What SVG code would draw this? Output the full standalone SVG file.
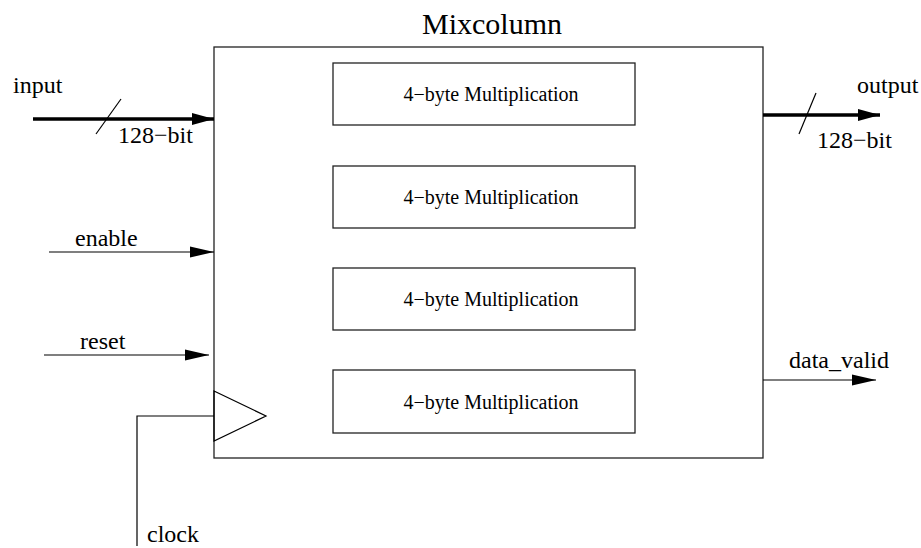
<svg xmlns="http://www.w3.org/2000/svg" width="921" height="548" viewBox="0 0 921 548">
  <style>
    text { font-family: "Liberation Serif", "Times New Roman", serif; fill: #000; }
    .lbl { font-size: 24px; }
    .title { font-size: 30px; }
    .unit { font-size: 20px; text-anchor: middle; }
    .box { fill: #fff; stroke: #222; stroke-width: 1.3; }
    .wire { fill: none; stroke: #000; stroke-width: 1.2; }
    .bus { fill: none; stroke: #000; stroke-width: 3.5; }
  </style>
  <defs>
    <marker id="arrow" markerUnits="userSpaceOnUse" markerWidth="24" markerHeight="12" refX="24" refY="6" orient="auto">
      <polygon points="0,0.5 24,6 0,11.5" fill="#000"/>
    </marker>
    <marker id="arrowBus" markerUnits="userSpaceOnUse" markerWidth="22" markerHeight="13" refX="22" refY="6.5" orient="auto">
      <polygon points="0,0.5 22,6.5 0,12.5" fill="#000"/>
    </marker>
  </defs>
  <rect width="921" height="548" fill="#fff"/>

  <!-- Mixcolumn block -->
  <g id="mixcolumn">
    <rect class="box" x="214" y="47" width="549" height="411"/>
    <text class="title" x="422" y="34">Mixcolumn</text>
    <polygon class="wire" points="214,391 266,416 214,441"/>
  </g>

  <g id="mult1">
    <rect class="box" x="333" y="63" width="302" height="62"/>
    <text class="unit" x="491" y="101">4−byte Multiplication</text>
  </g>
  <g id="mult2">
    <rect class="box" x="333" y="166" width="302" height="62"/>
    <text class="unit" x="491" y="204">4−byte Multiplication</text>
  </g>
  <g id="mult3">
    <rect class="box" x="333" y="268" width="302" height="62"/>
    <text class="unit" x="491" y="306">4−byte Multiplication</text>
  </g>
  <g id="mult4">
    <rect class="box" x="333" y="370" width="302" height="63"/>
    <text class="unit" x="491" y="409">4−byte Multiplication</text>
  </g>

  <!-- signals -->
  <g id="connectors">
    <line class="bus" x1="33" y1="119" x2="214" y2="119" marker-end="url(#arrowBus)"/>
    <line class="wire" x1="96" y1="134" x2="121" y2="99"/>
    <line class="bus" x1="763" y1="115" x2="880" y2="115" marker-end="url(#arrowBus)"/>
    <line class="wire" x1="799" y1="134" x2="816" y2="93"/>
    <line class="wire" x1="49" y1="252" x2="214" y2="252" marker-end="url(#arrow)"/>
    <line class="wire" x1="44" y1="355" x2="209" y2="355" marker-end="url(#arrow)"/>
    <line class="wire" x1="763" y1="380" x2="876" y2="380" marker-end="url(#arrow)"/>
    <polyline class="wire" points="214,416 137,416 137,546"/>
  </g>

  <g id="labels">
    <text class="lbl" x="13" y="93">input</text>
    <text class="lbl" x="118" y="143">128−bit</text>
    <text class="lbl" x="857" y="93">output</text>
    <text class="lbl" x="817" y="148">128−bit</text>
    <text class="lbl" x="75" y="246">enable</text>
    <text class="lbl" x="80" y="349">reset</text>
    <text class="lbl" x="789" y="368">data_valid</text>
    <text class="lbl" x="147" y="542">clock</text>
  </g>
</svg>
